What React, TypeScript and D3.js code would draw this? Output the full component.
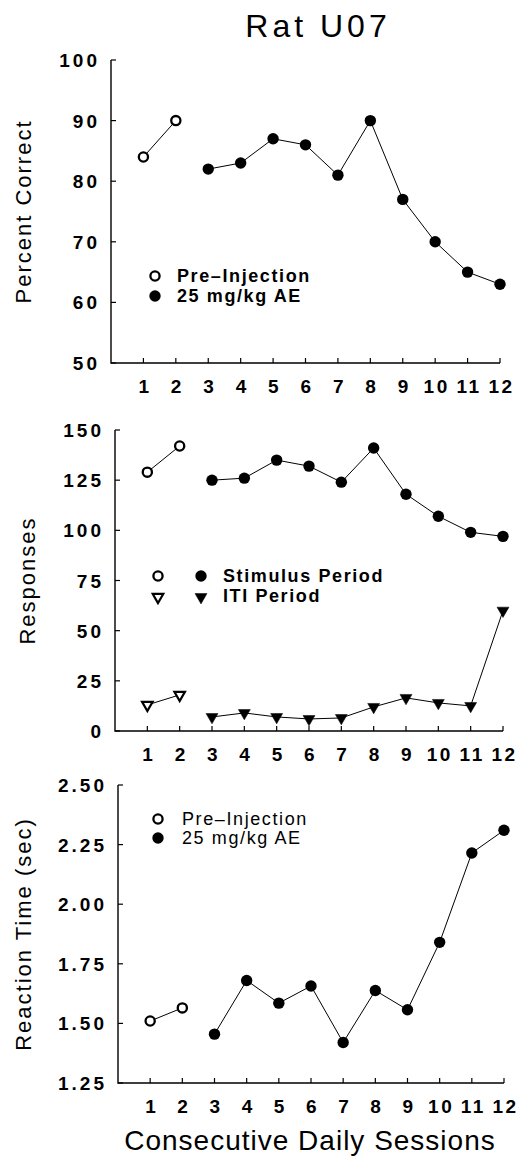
import React, { useEffect, useRef } from "react";
import * as d3 from "d3";

// sessions
const preSessions = [1, 2];
const aeSessions = [3, 4, 5, 6, 7, 8, 9, 10, 11, 12];
const sessionTicks = [1, 2, 3, 4, 5, 6, 7, 8, 9, 10, 11, 12];

// top panel: percent correct
const percentPre = [84, 90];
const percentAE = [82, 83, 87, 86, 81, 90, 77, 70, 65, 63];
const percentTicks = [50, 60, 70, 80, 90, 100];

// middle panel: responses
const stimPre = [129, 142];
const stimAE = [125, 126, 135, 132, 124, 141, 118, 107, 99, 97];
const itiPre = [13, 18];
const itiAE = [7, 9, 7, 6, 6.5, 12, 16.5, 14, 12.5, 60];
const responseTicks = [0, 25, 50, 75, 100, 125, 150];

// bottom panel: reaction time
const rtPre = [1.51, 1.565];
const rtAE = [1.455, 1.68, 1.585, 1.657, 1.42, 1.638, 1.557, 1.84, 2.215, 2.31];
const rtTicks = [1.25, 1.5, 1.75, 2.0, 2.25, 2.5];

const FONT = "'Liberation Sans', Arial, Helvetica, sans-serif";

const App = () => {
  const svgRef = useRef<SVGSVGElement>(null);

  useEffect(() => {
    const svg = d3.select(svgRef.current);
    svg.selectAll("*").remove();

    svg.append("text")
      .attr("x", 318).attr("y", 37)
      .attr("text-anchor", "middle")
      .style("font-family", FONT).style("font-size", "32px")
      .style("letter-spacing", "4px")
      .text("Rat U07");

    const drawPanel = (cfg) => {
      const x = d3.scaleLinear().domain([0, 12]).range([cfg.left, cfg.right]);
      const y = d3.scaleLinear().domain(cfg.domain).range([cfg.bottom, cfg.top]);
      const g = svg.append("g");

      // axes
      g.append("path")
        .attr("d", `M${cfg.left},${cfg.top}V${cfg.bottom}H${cfg.right}`)
        .attr("fill", "none").attr("stroke", "#000").attr("stroke-width", 1.4);

      cfg.ticks.forEach((t) => {
        g.append("line")
          .attr("x1", cfg.left).attr("x2", cfg.left + 5)
          .attr("y1", y(t)).attr("y2", y(t))
          .attr("stroke", "#000").attr("stroke-width", 1.2);
        g.append("text")
          .attr("x", cfg.left - 11).attr("y", y(t) + 7)
          .attr("text-anchor", "end")
          .style("font-family", FONT).style("font-size", "19px")
          .style("font-weight", "bold").style("letter-spacing", "3px")
          .text(cfg.fmt(t));
      });

      sessionTicks.forEach((s) => {
        g.append("line")
          .attr("x1", x(s)).attr("x2", x(s))
          .attr("y1", cfg.bottom).attr("y2", cfg.bottom - 5)
          .attr("stroke", "#000").attr("stroke-width", 1.2);
        g.append("text")
          .attr("x", x(s) + 1.5).attr("y", cfg.bottom + 30)
          .attr("text-anchor", "middle")
          .style("font-family", FONT).style("font-size", "19px")
          .style("font-weight", "bold").style("letter-spacing", "2.5px")
          .text(s);
      });

      g.append("text")
        .attr("transform", `translate(${cfg.titleX},${(cfg.top + cfg.bottom) / 2}) rotate(-90)`)
        .attr("text-anchor", "middle")
        .style("font-family", FONT).style("font-size", "22px")
        .style("letter-spacing", "2px")
        .text(cfg.title);

      const line = d3.line<[number, number]>().x((d) => x(d[0])).y((d) => y(d[1]));

      cfg.series.forEach((ser) => {
        const pts: [number, number][] = ser.sessions.map((s, i) => [s, ser.values[i]]);
        g.append("path")
          .attr("d", line(pts))
          .attr("fill", "none").attr("stroke", "#000").attr("stroke-width", 1);
      });

      cfg.series.forEach((ser) => {
        ser.sessions.forEach((s, i) => {
          drawMarker(g, ser.marker, x(s), y(ser.values[i]));
        });
      });

      return g;
    };

    const drawMarker = (g, type, cx, cy) => {
      if (type === "openCircle") {
        g.append("circle").attr("cx", cx).attr("cy", cy).attr("r", 4.6)
          .attr("fill", "#fff").attr("stroke", "#000").attr("stroke-width", 2.3);
      } else if (type === "filledCircle") {
        g.append("circle").attr("cx", cx).attr("cy", cy).attr("r", 5.7)
          .attr("fill", "#000");
      } else {
        const tri = d3.symbol().type(d3.symbolTriangle).size(type === "openTri" ? 48 : 62);
        g.append("path")
          .attr("d", tri())
          .attr("transform", `translate(${cx},${cy}) rotate(180)`)
          .attr("fill", type === "openTri" ? "#fff" : "#000")
          .attr("stroke", "#000")
          .attr("stroke-width", type === "openTri" ? 2.2 : 0.5);
      }
    };

    const legendText = (g, x, y, text, weight) => {
      g.append("text")
        .attr("x", x).attr("y", y)
        .style("font-family", FONT).style("font-size", "18px")
        .style("font-weight", weight).style("letter-spacing", "1.6px")
        .text(text);
    };

    // top panel
    const g1 = drawPanel({
      left: 111, right: 500, top: 60, bottom: 363,
      domain: [50, 100], ticks: percentTicks, fmt: d3.format("d"),
      title: "Percent Correct", titleX: 31,
      series: [
        { sessions: preSessions, values: percentPre, marker: "openCircle" },
        { sessions: aeSessions, values: percentAE, marker: "filledCircle" },
      ],
    });
    drawMarker(g1, "openCircle", 155, 276);
    drawMarker(g1, "filledCircle", 155, 296);
    legendText(g1, 177, 282, "Pre\u2013Injection", "bold");
    legendText(g1, 177, 302, "25 mg/kg AE", "bold");

    // middle panel
    const g2 = drawPanel({
      left: 115, right: 503, top: 430, bottom: 731,
      domain: [0, 150], ticks: responseTicks, fmt: d3.format("d"),
      title: "Responses", titleX: 35,
      series: [
        { sessions: preSessions, values: stimPre, marker: "openCircle" },
        { sessions: aeSessions, values: stimAE, marker: "filledCircle" },
        { sessions: preSessions, values: itiPre, marker: "openTri" },
        { sessions: aeSessions, values: itiAE, marker: "filledTri" },
      ],
    });
    drawMarker(g2, "openCircle", 158, 576);
    drawMarker(g2, "filledCircle", 201, 576);
    drawMarker(g2, "openTri", 158, 597);
    drawMarker(g2, "filledTri", 201, 597);
    legendText(g2, 223, 582, "Stimulus Period", "bold");
    legendText(g2, 223, 602, "ITI Period", "bold");

    // bottom panel
    const g3 = drawPanel({
      left: 118, right: 504, top: 785, bottom: 1083,
      domain: [1.25, 2.5], ticks: rtTicks, fmt: d3.format(".2f"),
      title: "Reaction Time (sec)", titleX: 31,
      series: [
        { sessions: preSessions, values: rtPre, marker: "openCircle" },
        { sessions: aeSessions, values: rtAE, marker: "filledCircle" },
      ],
    });
    drawMarker(g3, "openCircle", 158, 819);
    drawMarker(g3, "filledCircle", 158, 838);
    legendText(g3, 182, 825, "Pre\u2013Injection", "normal");
    legendText(g3, 182, 844, "25 mg/kg AE", "normal");

    svg.append("text")
      .attr("x", 310).attr("y", 1150)
      .attr("text-anchor", "middle")
      .style("font-family", FONT).style("font-size", "28px")
      .style("letter-spacing", "1px")
      .text("Consecutive Daily Sessions");
  }, []);

  return (
    <svg
      ref={svgRef}
      width={529}
      height={1160}
      style={{ position: "absolute", left: 0, top: 0, background: "#fff" }}
    ></svg>
  );
};

export default App;
